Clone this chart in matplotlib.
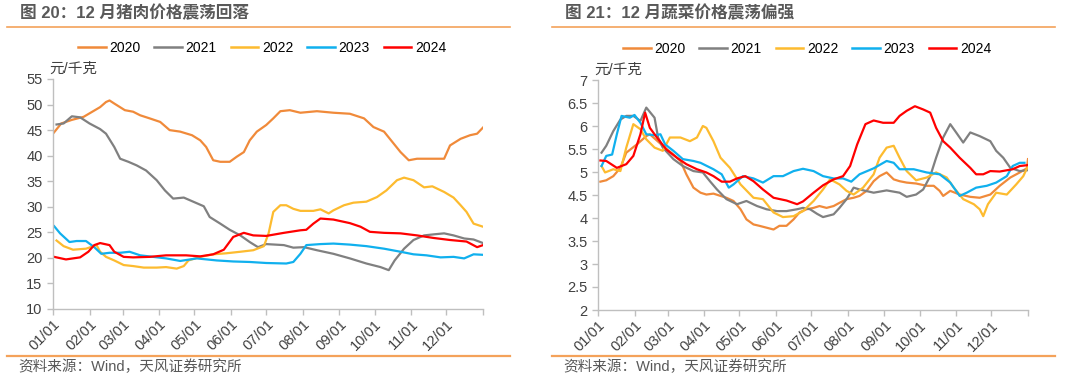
import matplotlib
matplotlib.use("Agg")
import matplotlib.pyplot as plt
from matplotlib.lines import Line2D

# Font: Arial-like for digits, CJK fallback for Chinese
plt.rcParams["font.family"] = ["Liberation Sans", "Noto Sans CJK SC"]
plt.rcParams["axes.unicode_minus"] = False

years = ["2020", "2021", "2022", "2023", "2024"]
colors = ["#F08A3A", "#808080", "#FDBB2F", "#10B0EE", "#FF0000"]
month_labels = ["01/01", "02/01", "03/01", "04/01", "05/01", "06/01",
                "07/01", "08/01", "09/01", "10/01", "11/01", "12/01"]
month_days = [0, 31, 59, 90, 120, 151, 181, 212, 243, 273, 304, 334, 365]

# ---- pork price (yuan/kg), x = day of year ----
pork_2020_days = [0, 7, 16, 26, 40, 45, 48, 52, 61, 68, 74, 82, 91, 99, 108, 118, 125, 130,
                  136, 142, 150, 156, 162, 167, 173, 181, 187, 193, 201, 210, 224, 238, 252,
                  264, 272, 281, 288, 295, 302, 309, 323, 332, 337, 346, 354, 360, 365]
pork_2020 = [44.3, 46.3, 47.0, 47.6, 49.5, 50.5, 50.8, 50.2, 48.9, 48.6, 47.9, 47.3, 46.6,
             45.0, 44.7, 44.0, 43.0, 41.7, 39.1, 38.8, 38.8, 39.8, 40.7, 43.0, 44.7, 46.0,
             47.3, 48.7, 48.9, 48.4, 48.7, 48.4, 48.2, 47.3, 45.6, 44.7, 42.7, 40.7, 39.1,
             39.4, 39.4, 39.4, 42.0, 43.3, 44.0, 44.3, 45.5]
pork_2021_days = [3, 9, 16, 23, 31, 40, 45, 52, 57, 64, 71, 79, 88, 95, 102, 111, 119, 128,
                  133, 142, 150, 159, 167, 174, 181, 196, 204, 213, 224, 238, 252, 266, 278,
                  285, 290, 298, 306, 315, 323, 332, 340, 349, 357, 365]
pork_2021 = [46.1, 46.3, 47.7, 47.5, 46.3, 45.2, 44.3, 41.7, 39.4, 38.8, 38.1, 37.1, 35.2,
             33.2, 31.6, 31.8, 31.0, 30.1, 28.0, 26.7, 25.5, 24.4, 23.1, 22.1, 22.7, 22.5,
             22.0, 22.1, 21.5, 20.8, 19.9, 18.9, 18.2, 17.6, 19.5, 21.8, 23.5, 24.4, 24.6,
             24.8, 24.4, 23.8, 23.6, 22.9]
pork_2022_days = [3, 9, 17, 28, 37, 40, 45, 52, 60, 68, 77, 88, 96, 105, 111, 115, 125, 136,
                  147, 159, 170, 179, 183, 187, 193, 198, 204, 210, 221, 227, 234, 238, 247,
                  255, 266, 275, 283, 292, 298, 306, 315, 322, 332, 340, 346, 351, 357, 365]
pork_2022 = [23.4, 22.3, 21.6, 21.8, 22.5, 21.2, 20.2, 19.5, 18.6, 18.4, 18.1, 18.1, 18.2,
             17.9, 18.4, 19.5, 20.2, 20.7, 20.9, 21.2, 21.5, 22.3, 24.8, 29.0, 30.3, 30.3,
             29.6, 29.2, 29.2, 29.5, 28.7, 29.3, 30.3, 30.8, 31.0, 31.9, 33.2, 35.2, 35.7,
             35.2, 33.8, 34.0, 32.9, 31.8, 30.3, 29.0, 26.7, 26.1]
pork_2023_days = [1, 6, 14, 20, 28, 35, 41, 48, 57, 65, 74, 85, 96, 108, 122, 139, 153, 167,
                  181, 198, 204, 210, 215, 227, 238, 252, 266, 281, 295, 306, 317, 329, 340,
                  349, 357, 365]
pork_2023 = [26.2, 24.8, 23.1, 23.3, 23.3, 22.1, 20.8, 21.0, 21.0, 21.2, 20.5, 20.2, 19.9,
             19.4, 19.9, 19.5, 19.3, 19.2, 19.0, 18.9, 19.2, 20.8, 22.5, 22.7, 22.8, 22.6,
             22.3, 21.8, 21.2, 20.7, 20.5, 20.1, 20.2, 19.9, 20.7, 20.6]
pork_2024_days = [1, 11, 23, 30, 35, 40, 48, 52, 60, 68, 82, 96, 113, 125, 136, 145, 153, 162,
                  170, 181, 196, 210, 215, 221, 227, 238, 252, 261, 269, 281, 295, 309, 323,
                  337, 351, 360, 365]
pork_2024 = [20.2, 19.7, 20.1, 21.2, 22.5, 22.9, 22.5, 21.2, 20.2, 20.1, 20.2, 20.5, 20.5,
             20.3, 20.7, 21.6, 24.1, 24.9, 24.4, 24.3, 24.9, 25.4, 25.5, 26.7, 27.7, 27.5,
             26.8, 26.1, 25.1, 24.9, 24.8, 24.4, 23.9, 23.5, 23.2, 22.1, 22.5]

# ---- vegetable price (yuan/kg) ----
veg_2020_days = [2, 7, 13, 19, 24, 33, 41, 44, 55, 64, 70, 75, 81, 87, 92, 98, 104, 109, 115,
                 121, 126, 132, 137, 143, 149, 154, 160, 166, 171, 177, 183, 188, 194, 200,
                 205, 211, 217, 222, 228, 234, 239, 245, 251, 256, 262, 270, 279, 285, 290,
                 293, 299, 307, 316, 324, 333, 341, 350, 358, 364, 365]
veg_2020 = [4.79, 4.82, 4.91, 5.09, 5.42, 5.60, 5.78, 5.82, 5.57, 5.38, 5.24, 4.95, 4.66,
            4.55, 4.51, 4.53, 4.48, 4.44, 4.37, 4.19, 3.97, 3.86, 3.83, 3.79, 3.75, 3.83,
            3.83, 3.97, 4.12, 4.19, 4.22, 4.26, 4.22, 4.26, 4.33, 4.41, 4.44, 4.48, 4.59,
            4.80, 4.91, 4.99, 4.84, 4.80, 4.77, 4.75, 4.70, 4.70, 4.59, 4.48, 4.59, 4.51,
            4.46, 4.44, 4.51, 4.70, 4.88, 4.99, 5.08, 5.28]
veg_2021_days = [3, 7, 13, 19, 24, 30, 36, 41, 48, 51, 55, 64, 72, 81, 89, 95, 101, 109, 118,
                 126, 135, 143, 152, 160, 169, 174, 180, 186, 191, 200, 205, 211, 217, 222,
                 234, 245, 256, 262, 270, 276, 282, 287, 293, 299, 304, 310, 316, 324, 333,
                 338, 344, 350, 358, 365]
veg_2021 = [5.42, 5.57, 5.89, 6.14, 6.22, 6.22, 6.11, 6.40, 6.18, 5.75, 5.53, 5.28, 5.13,
            5.02, 4.99, 4.80, 4.62, 4.41, 4.30, 4.37, 4.26, 4.19, 4.15, 4.15, 4.19, 4.22,
            4.19, 4.09, 4.02, 4.08, 4.22, 4.41, 4.66, 4.62, 4.55, 4.60, 4.55, 4.46, 4.51,
            4.62, 4.91, 5.31, 5.75, 6.04, 5.86, 5.64, 5.86, 5.78, 5.67, 5.46, 5.31, 5.09,
            5.02, 5.04]
veg_2022_days = [3, 6, 13, 19, 24, 30, 36, 41, 48, 55, 61, 70, 78, 84, 89, 92, 98, 104, 112,
                 121, 132, 140, 149, 157, 166, 174, 183, 191, 197, 205, 211, 217, 225, 234,
                 239, 245, 251, 256, 262, 270, 279, 287, 296, 302, 310, 319, 324, 327, 331,
                 338, 347, 355, 361, 365]
veg_2022 = [5.13, 4.99, 5.06, 5.02, 5.53, 6.04, 5.93, 5.71, 5.53, 5.46, 5.75, 5.75, 5.67,
            5.75, 6.00, 5.96, 5.67, 5.31, 5.09, 4.73, 4.44, 4.41, 4.12, 4.02, 4.04, 4.15,
            4.37, 4.62, 4.84, 4.73, 4.59, 4.51, 4.66, 4.95, 5.31, 5.53, 5.57, 5.31, 5.02,
            4.82, 4.88, 4.99, 4.88, 4.66, 4.41, 4.30, 4.19, 4.04, 4.30, 4.55, 4.51, 4.73,
            4.91, 5.13]
veg_2023_days = [3, 7, 12, 16, 20, 27, 31, 36, 41, 48, 53, 57, 64, 72, 81, 87, 98, 105, 111,
                 115, 123, 132, 140, 149, 157, 166, 174, 183, 191, 200, 208, 215, 222, 234,
                 245, 251, 256, 268, 279, 290, 299, 307, 313, 321, 330, 338, 347, 352, 358,
                 362]
veg_2023 = [5.13, 5.35, 5.38, 5.82, 6.22, 6.18, 6.24, 6.07, 5.82, 5.80, 5.82, 5.60, 5.46,
            5.28, 5.24, 5.20, 5.06, 4.95, 4.66, 4.73, 4.91, 4.86, 4.77, 4.91, 4.91, 5.02,
            5.07, 5.02, 4.91, 4.86, 4.86, 4.79, 4.95, 5.08, 5.24, 5.20, 5.06, 5.06, 4.99,
            4.95, 4.77, 4.48, 4.55, 4.66, 4.70, 4.77, 4.91, 5.13, 5.20, 5.20]
veg_2024_days = [2, 7, 16, 24, 30, 36, 40, 44, 50, 58, 67, 75, 84, 92, 98, 105, 112, 118, 125,
                 132, 140, 149, 160, 169, 174, 183, 191, 200, 208, 214, 220, 227, 234, 242,
                 251, 256, 262, 269, 276, 282, 287, 293, 299, 307, 316, 321, 327, 333, 341,
                 352, 358, 365]
veg_2024 = [5.25, 5.24, 5.09, 5.17, 5.35, 5.82, 6.29, 5.96, 5.75, 5.49, 5.31, 5.17, 5.06,
            4.99, 4.91, 4.79, 4.79, 4.86, 4.91, 4.80, 4.62, 4.44, 4.38, 4.30, 4.36, 4.55,
            4.71, 4.84, 4.91, 5.13, 5.60, 6.04, 6.12, 6.07, 6.07, 6.22, 6.33, 6.43, 6.36,
            6.29, 5.96, 5.67, 5.53, 5.31, 5.09, 4.95, 4.95, 5.02, 5.01, 5.06, 5.13, 5.15]

pork_series = [(pork_2020_days, pork_2020), (pork_2021_days, pork_2021),
               (pork_2022_days, pork_2022), (pork_2023_days, pork_2023),
               (pork_2024_days, pork_2024)]
veg_series = [(veg_2020_days, veg_2020), (veg_2021_days, veg_2021),
              (veg_2022_days, veg_2022), (veg_2023_days, veg_2023),
              (veg_2024_days, veg_2024)]

W, H = 1080, 376
fig = plt.figure(figsize=(W / 100, H / 100), dpi=100)

text_gray = "#595959"
tick_gray = "#404040"
spine_gray = "#BFBFBF"
rule_orange = "#F4A25A"


def px(x, y):
    return x / W, 1 - y / H


def draw_panel(left_px, top_px, series, ylim, yticks, title, title_x, rule_x0, rule_x1):
    x0, y0 = px(left_px, top_px + 230)
    ax = fig.add_axes([x0, y0, 430 / W, 230 / H])
    for (d, v), c in zip(series, colors):
        ax.plot(d, v, color=c, lw=1.6)
    ax.set_xlim(0, 365)
    ax.set_ylim(*ylim)
    ax.set_yticks(yticks)
    ax.set_yticklabels([f"{t:g}" for t in yticks], fontsize=10.5, color=tick_gray)
    ax.set_xticks(month_days)
    ax.set_xticklabels(month_labels + [""], rotation=45, ha="right",
                       rotation_mode="anchor", fontsize=10.5, color=tick_gray)
    for s in ["top", "right"]:
        ax.spines[s].set_visible(False)
    for s in ["left", "bottom"]:
        ax.spines[s].set_color(spine_gray)
        ax.spines[s].set_linewidth(1.0)
    ax.tick_params(axis="both", direction="out", color=spine_gray, length=4, width=1.0)
    ax.tick_params(axis="x", pad=2)

    handles = [Line2D([], [], color=c, lw=1.8) for c in colors]
    ax.legend(handles, years, loc="center", bbox_to_anchor=(0.486, 1.135), ncol=5,
              frameon=False, fontsize=10, handlelength=2.0, handletextpad=0.25,
              columnspacing=1.0)

    # unit label
    fig.text(*px(left_px - 4, top_px - 10), "元/千克", fontsize=10.5, color=tick_gray,
             ha="left", va="center")
    # title and rules
    fig.text(*px(title_x, 13), title, fontsize=12, fontweight="bold", color=text_gray,
             ha="left", va="center")
    fig.add_artist(Line2D([rule_x0 / W, rule_x1 / W], [1 - 27 / H] * 2,
                          color=rule_orange, lw=1.2))
    fig.add_artist(Line2D([rule_x0 / W, rule_x1 / W], [1 - 356 / H] * 2,
                          color=rule_orange, lw=1.6))
    fig.text(*px(title_x - 2, 367), "资料来源：Wind，天风证券研究所", fontsize=10.5,
             color=text_gray, ha="left", va="center")
    return ax


draw_panel(53, 79, pork_series, (10, 55), list(range(10, 60, 5)),
           "图 20：12 月猪肉价格震荡回落", 20, 7, 510)
draw_panel(598, 80, veg_series, (2, 7), [2, 2.5, 3, 3.5, 4, 4.5, 5, 5.5, 6, 6.5, 7],
           "图 21：12 月蔬菜价格震荡偏强", 565, 552, 1055)

fig.savefig("out.png", dpi=100)
